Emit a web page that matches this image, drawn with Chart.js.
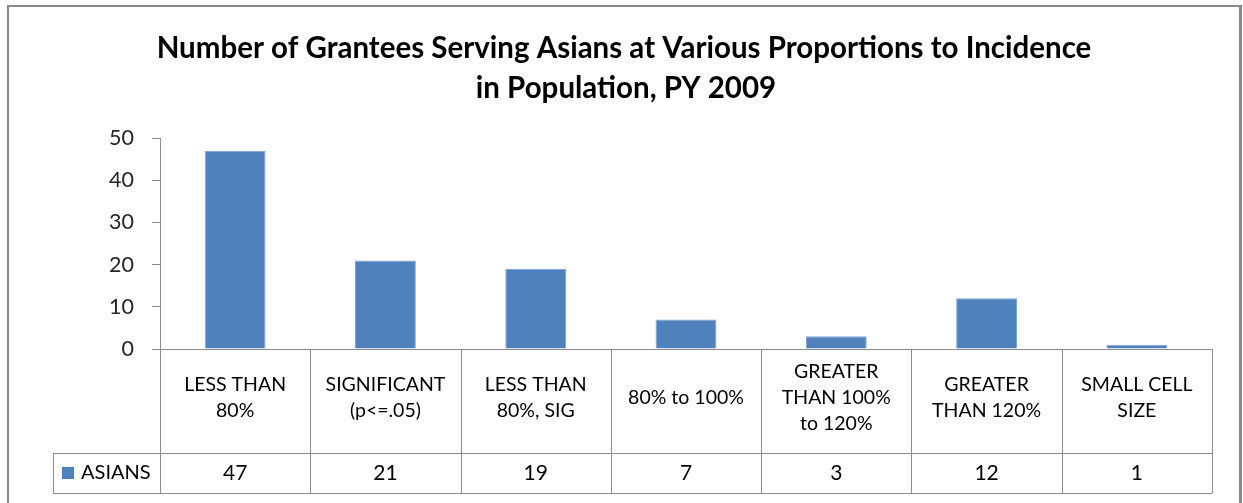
<!DOCTYPE html>
<html><head><meta charset="utf-8">
<script src="https://cdn.jsdelivr.net/npm/chart.js@4"></script>
<style>html,body{margin:0;padding:0;background:#fff}#wrap{width:1243px;height:503px;position:relative}</style>
</head><body><div id="wrap"><canvas id="c" width="1243" height="503"></canvas></div>
<script>
const titleLines = ["Number of Grantees Serving Asians at Various Proportions to Incidence", "in Population, PY 2009"];
const categories = [["LESS THAN","80%"],["SIGNIFICANT","(p<=.05)"],["LESS THAN","80%, SIG"],["80% to 100%"],["GREATER","THAN 100%","to 120%"],["GREATER","THAN 120%"],["SMALL CELL","SIZE"]];
const seriesName = "ASIANS";
const asians = [47, 21, 19, 7, 3, 12, 1];
const yTicks = [0, 10, 20, 30, 40, 50];

const FONT = "Lato, 'Open Sans', sans-serif";
const GRID = '#8c8c8c';
const BAR = '#4f81bd';

const tablePlugin = {
  id: 'tablePlugin',
  beforeDraw(chart) {
    const ctx = chart.ctx;
    ctx.save();
    ctx.fillStyle = '#ffffff';
    ctx.fillRect(0, 0, chart.width, chart.height);
    ctx.fillStyle = '#8a8a8a';
    ctx.fillRect(7, 5, 2, 500);
    ctx.fillRect(7, 5, 1235, 2);
    ctx.fillRect(1239, 5, 3, 500);
    // title
    ctx.fillStyle = '#000';
    ctx.font = "bold 29.5px " + FONT;
    ctx.textAlign = 'center';
    ctx.textBaseline = 'middle';
    ctx.fillText(titleLines[0], 624, 48);
    ctx.fillText(titleLines[1], 626, 88);
    ctx.restore();
  },
  afterDraw(chart) {
    const ctx = chart.ctx;
    const xs = chart.scales.x;
    const area = chart.chartArea;
    const n = categories.length;
    const w = (area.right - area.left) / n;
    const top = area.bottom;
    const mid = top + 104;
    const bot = mid + 40;
    const legL = 53;
    ctx.save();
    ctx.strokeStyle = GRID;
    ctx.lineWidth = 1;
    const line = (x1, y1, x2, y2) => { ctx.beginPath(); ctx.moveTo(x1, y1); ctx.lineTo(x2, y2); ctx.stroke(); };
    line(area.left - 8, top + 0.5, area.right, top + 0.5);
    line(legL, mid + 0.5, area.right, mid + 0.5);
    line(legL, bot + 0.5, area.right, bot + 0.5);
    for (let i = 0; i <= n; i++) {
      const x = Math.round(area.left + i * w) + 0.5;
      line(x, top, x, bot);
    }
    line(legL + 0.5, mid, legL + 0.5, bot);
    ctx.fillStyle = '#000';
    ctx.textAlign = 'center';
    ctx.textBaseline = 'middle';
    categories.forEach((lbl, i) => {
      const cx = xs.getPixelForValue(i);
      const lh = 26;
      ctx.font = "19.5px " + FONT;
      const y0 = (top + mid) / 2 - 3 - (lbl.length - 1) * lh / 2;
      lbl.forEach((t, j) => ctx.fillText(t, cx, y0 + j * lh));
      ctx.font = "21px " + FONT;
      ctx.fillText(String(asians[i]), cx, (mid + bot) / 2);
    });
    ctx.fillStyle = BAR;
    ctx.fillRect(62, 467, 12, 12);
    ctx.fillStyle = '#000';
    ctx.textAlign = 'left';
    ctx.font = "20px " + FONT;
    ctx.fillText(seriesName, 81, (mid + bot) / 2);
    ctx.restore();
  }
};

new Chart(document.getElementById('c'), {
  type: 'bar',
  data: {
    labels: categories,
    datasets: [{
      label: seriesName,
      data: asians,
      backgroundColor: BAR,
      borderColor: '#7ea4d4',
      borderWidth: 1,
      barPercentage: 0.405,
      categoryPercentage: 1
    }]
  },
  options: {
    responsive: false,
    animation: false,
    devicePixelRatio: 1,
    layout: { padding: { top: 138, right: 31, bottom: 154, left: 0 } },
    plugins: { legend: { display: false }, title: { display: false }, tooltip: { enabled: false } },
    scales: {
      x: { type: 'category', offset: true, display: false },
      y: {
        min: 0, max: 50,
        afterFit(s) { s.width = 160; },
        afterBuildTicks(s) { s.ticks = yTicks.map(v => ({ value: v })); },
        ticks: { color: '#262626', font: { family: FONT, size: 21.5 }, padding: 18 },
        grid: { drawOnChartArea: false, drawTicks: true, tickLength: 8, color: GRID },
        border: { display: true, color: GRID }
      }
    }
  },
  plugins: [tablePlugin]
});
</script>
</body></html>
